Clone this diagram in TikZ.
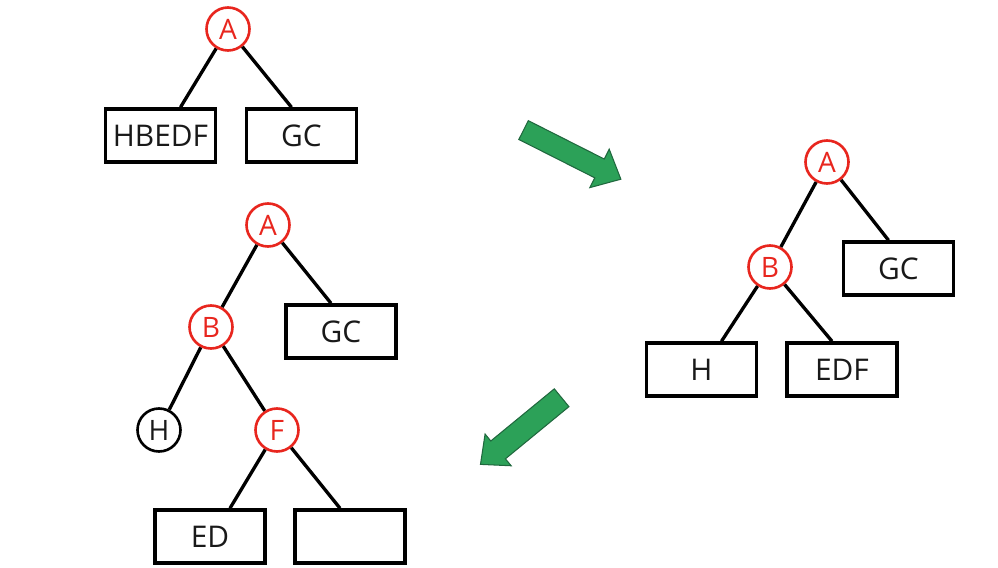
\documentclass[tikz,border=0pt]{standalone}
\usepackage{fontspec}
\setmainfont{Open Sans}
\usetikzlibrary{shapes.arrows}
\definecolor{nodered}{RGB}{232,38,30}
\definecolor{arrowgreen}{RGB}{44,161,88}
\definecolor{arrowedge}{RGB}{32,104,62}
\tikzset{
	redcirc/.style={circle, draw=nodered, line width=1.5pt, minimum size=0.86cm, inner sep=0pt, text=nodered, font=\fontsize{16}{18}\selectfont},
	blackcirc/.style={redcirc, draw=black, text=black!90},
	subtree/.style={rectangle, draw=black, line width=2pt, minimum width=2.2cm, minimum height=1.06cm, inner sep=0pt, text=black!90, font=\fontsize{17}{20}\selectfont},
	edge/.style={line width=1.9pt},
	bigarrow/.style={single arrow, draw=arrowedge, fill=arrowgreen, line width=0.6pt, inner xsep=0pt, single arrow tip angle=84}
}

\begin{document}
\begin{tikzpicture}[x=0.02cm, y=-0.02cm]
			%%%%% START %%%%%
			\useasboundingbox (0, 0) rectangle (998, 568);
			
			% first step
			\node[redcirc] (a1) at (228, 29) {A};
			\node[subtree] (hbedf) at (160.5, 135.5) {HBEDF};
			\node[subtree] (gc1) at (301.5, 135.5) {GC};
			\draw[edge] (a1) -- ([xshift=0.4cm]hbedf.north);
			\draw[edge] (a1) -- ([xshift=-0.2cm]gc1.north);
			
			\node[bigarrow, minimum height=2.18cm, inner ysep=0.2cm, single arrow head extend=0.22cm, rotate=-26.8] (arrow1) at (567, 152) {};
			
			% second step
			\node[redcirc] (a2) at (827, 162) {A};
			\node[redcirc] (b2) at (770, 267) {B};
			\node[subtree] (gc2) at (898.5, 268.5) {GC};
			\node[subtree] (h2) at (701.5, 369.5) {H};
			\node[subtree] (edf2) at (842, 369.5) {EDF};
			\draw[edge] (a2) -- (b2);
			\draw[edge] (a2) -- ([xshift=-0.2cm]gc2.north);
			\draw[edge] (b2) -- ([xshift=0.4cm]h2.north);
			\draw[edge] (b2) -- ([xshift=-0.2cm]edf2.north);
			
			\node[bigarrow, minimum height=2.1cm, inner ysep=0.22cm, single arrow head extend=0.18cm, rotate=219.4] (arrow2) at (526, 427) {};
			
			% third step
			\node[redcirc] (a3) at (268, 225) {A};
			\node[redcirc] (b3) at (211, 327) {B};
			\node[subtree] (gc3) at (341, 331.5) {GC};
			\node[blackcirc] (h3) at (159, 430) {H};
			\node[redcirc] (f3) at (277, 430) {F};
			\node[subtree] (ed3) at (210, 536.5) {ED};
			\node[subtree] (empty3) at (350, 536.5) {};
			\draw[edge] (a3) -- (b3);
			\draw[edge] (a3) -- ([xshift=-0.2cm]gc3.north);
			\draw[edge] (b3) -- (h3);
			\draw[edge] (b3) -- (f3);
			\draw[edge] (f3) -- ([xshift=0.4cm]ed3.north);
			\draw[edge] (f3) -- ([xshift=-0.2cm]empty3.north);
			
			%%%%% END %%%%%
		\end{tikzpicture}
\end{document}
